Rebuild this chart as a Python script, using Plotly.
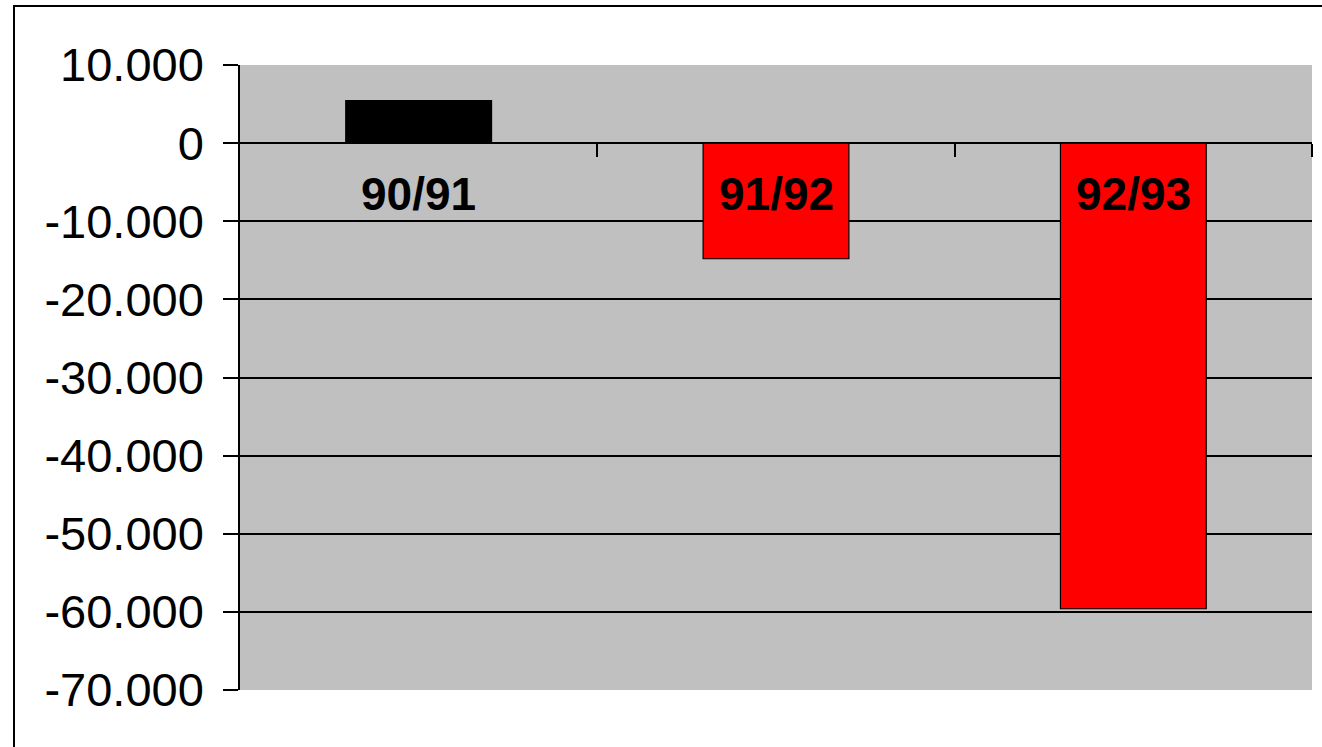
import plotly.graph_objects as go

categories = ["90/91", "91/92", "92/93"]
values = [5450, -14800, -59600]
bar_colors = ["#000000", "#FF0000", "#FF0000"]
y_tickvals = [10000, 0, -10000, -20000, -30000, -40000, -50000, -60000, -70000]
y_ticktext = ["10.000", "0", "-10.000", "-20.000", "-30.000", "-40.000", "-50.000", "-60.000", "-70.000"]
grid_vals = [-10000, -20000, -30000, -40000, -50000, -60000]
boundaries = [0.5, 1.5, 2.5]

FONT = "Liberation Sans, Arial, sans-serif"
W, H = 1322, 747
L, R, T, B = 240, 10, 65, 57
yr = [-70000, 10000]

xs = list(range(len(categories)))

fig = go.Figure()
fig.add_trace(go.Bar(
    x=xs, y=values, width=0.408,
    marker=dict(color=bar_colors, line=dict(color="black", width=1.2)),
    yaxis="y", xaxis="x", showlegend=False, hoverinfo="skip",
))
# invisible trace to carry the grid axis
fig.add_trace(go.Scatter(x=[xs[0]], y=[0], yaxis="y2", mode="markers",
                         marker=dict(opacity=0), showlegend=False, hoverinfo="skip"))

for i, c in enumerate(categories):
    fig.add_annotation(x=xs[i], y=0, xref="x", yref="y", text="<b>%s</b>" % c,
                       showarrow=False, yanchor="middle", yshift=-51,
                       font=dict(family=FONT, size=46, color="black"))

pw = W - L - R
ph = H - T - B
fig.add_shape(type="rect", xref="paper", yref="paper",
              x0=(14 - L) / pw, x1=(W + 20 - L) / pw,
              y0=-(B + 20) / ph, y1=(H - B - 6) / ph,
              line=dict(color="black", width=2), fillcolor="rgba(0,0,0,0)", layer="above")

fig.update_layout(
    width=W, height=H,
    margin=dict(l=L, r=R, t=T, b=B),
    paper_bgcolor="white", plot_bgcolor="#C0C0C0",
    font=dict(family=FONT, color="black"),
    xaxis=dict(range=[-0.5, 2.5], anchor="free", position=(0 - yr[0]) / (yr[1] - yr[0]),
               showline=True, linecolor="black", linewidth=1.5,
               ticks="outside", tickvals=boundaries, ticklen=13, tickwidth=1.5, tickcolor="black",
               showticklabels=False, showgrid=False, zeroline=False, fixedrange=True),
    yaxis=dict(range=yr, tickvals=y_tickvals, ticktext=y_ticktext,
               showgrid=False, zeroline=False, showline=True, linecolor="black", linewidth=1.5,
               ticks="outside", ticklen=15, tickwidth=1.5, tickcolor="black",
               ticklabelstandoff=10,
               tickfont=dict(family=FONT, size=47, color="black")),
    yaxis2=dict(range=yr, overlaying="y", tickvals=grid_vals, showgrid=True,
                gridcolor="black", gridwidth=1.5, showticklabels=False, ticks="",
                zeroline=False, showline=False),
)

fig.write_html("out.html", config={"displayModeBar": False},
               post_script="document.body.style.margin='0';")
